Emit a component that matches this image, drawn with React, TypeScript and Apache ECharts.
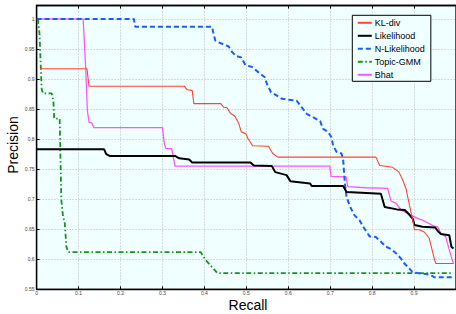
import React, { useEffect, useRef } from "react";
import * as echarts from "echarts";

const seriesNames = ["KL-div", "Likelihood", "N-Likelihood", "Topic-GMM", "Bhat"];

const klDiv: [number, number][] = [
  [0.008, 0.917], [0.12, 0.917], [0.125, 0.888], [0.352, 0.888], [0.359, 0.882],
  [0.371, 0.881], [0.375, 0.859], [0.439, 0.859], [0.446, 0.853], [0.454, 0.852],
  [0.462, 0.843], [0.473, 0.838], [0.482, 0.826], [0.488, 0.812], [0.499, 0.809],
  [0.504, 0.801], [0.515, 0.789], [0.553, 0.788], [0.563, 0.776], [0.575, 0.77],
  [0.809, 0.77], [0.818, 0.756], [0.849, 0.753], [0.864, 0.745], [0.873, 0.732],
  [0.881, 0.717], [0.889, 0.69], [0.897, 0.665], [0.901, 0.649], [0.913, 0.649],
  [0.925, 0.645], [0.936, 0.635], [0.949, 0.599], [0.952, 0.593], [0.994, 0.593],
];

const likelihood: [number, number][] = [
  [0.0, 0.783], [0.161, 0.783], [0.166, 0.775], [0.174, 0.772], [0.33, 0.772],
  [0.34, 0.768], [0.364, 0.766], [0.371, 0.761], [0.51, 0.761], [0.518, 0.756],
  [0.561, 0.755], [0.569, 0.745], [0.596, 0.74], [0.605, 0.73], [0.652, 0.726],
  [0.656, 0.722], [0.731, 0.722], [0.739, 0.712], [0.821, 0.709], [0.83, 0.687],
  [0.859, 0.683], [0.878, 0.682], [0.889, 0.674], [0.897, 0.667], [0.901, 0.657],
  [0.92, 0.654], [0.95, 0.653], [0.958, 0.646], [0.964, 0.642], [0.984, 0.64],
  [0.989, 0.621], [0.994, 0.618],
];

const nLikelihood: [number, number][] = [
  [0.0, 1.0], [0.232, 1.0], [0.235, 0.987], [0.418, 0.987], [0.422, 0.975],
  [0.426, 0.964], [0.434, 0.961], [0.458, 0.954], [0.466, 0.945], [0.476, 0.938],
  [0.488, 0.936], [0.498, 0.923], [0.514, 0.92], [0.529, 0.911], [0.544, 0.903],
  [0.549, 0.892], [0.559, 0.878], [0.569, 0.874], [0.585, 0.867], [0.596, 0.866],
  [0.62, 0.864], [0.632, 0.853], [0.644, 0.842], [0.66, 0.836], [0.676, 0.83],
  [0.683, 0.817], [0.695, 0.812], [0.703, 0.803], [0.707, 0.789], [0.715, 0.779],
  [0.727, 0.776], [0.731, 0.765], [0.735, 0.726], [0.739, 0.704], [0.747, 0.688],
  [0.758, 0.673], [0.77, 0.665], [0.778, 0.655], [0.794, 0.638], [0.809, 0.637],
  [0.821, 0.629], [0.833, 0.621], [0.845, 0.617], [0.857, 0.61], [0.869, 0.601],
  [0.877, 0.593], [0.896, 0.579], [0.908, 0.577], [0.932, 0.575], [0.944, 0.572],
  [0.948, 0.57], [0.994, 0.57],
];

const topicGmm: [number, number][] = [
  [0.003, 1.0], [0.007, 0.975], [0.01, 0.92], [0.012, 0.884], [0.015, 0.876],
  [0.036, 0.876], [0.04, 0.864], [0.042, 0.834], [0.055, 0.834], [0.057, 0.765],
  [0.059, 0.698], [0.063, 0.671], [0.067, 0.662], [0.071, 0.621], [0.075, 0.612],
  [0.391, 0.612], [0.403, 0.599], [0.431, 0.577], [0.994, 0.577],
];

const bhat: [number, number][] = [
  [0.003, 1.0], [0.111, 1.0], [0.117, 0.92], [0.121, 0.848], [0.125, 0.828],
  [0.131, 0.827], [0.137, 0.819], [0.3, 0.819], [0.304, 0.795], [0.308, 0.784],
  [0.322, 0.784], [0.33, 0.755], [0.699, 0.755], [0.702, 0.738], [0.738, 0.737],
  [0.742, 0.721], [0.786, 0.719], [0.837, 0.718], [0.845, 0.697], [0.857, 0.693],
  [0.869, 0.682], [0.885, 0.676], [0.908, 0.668], [0.92, 0.665], [0.948, 0.655],
  [0.956, 0.654], [0.964, 0.643], [0.975, 0.638], [0.983, 0.618], [0.991, 0.599],
  [0.994, 0.593],
];

const xTicks = [0, 0.1, 0.2, 0.3, 0.4, 0.5, 0.6, 0.7, 0.8, 0.9, 1];
const yTicks = [0.55, 0.6, 0.65, 0.7, 0.75, 0.8, 0.85, 0.9, 0.95, 1];

const FONT = "'Liberation Sans', Arial, Helvetica, sans-serif";

export default function App() {
  const ref = useRef<HTMLDivElement>(null);
  useEffect(() => {
    if (!ref.current) return;
    const chart = echarts.init(ref.current, undefined, { renderer: "svg" });
    const gridLeft = 36.6;
    const gridTop = 5.5;
    const gridW = 422;
    const gridH = 283.8;
    const tickLabel = {
      fontSize: 5,
      lineHeight: 5,
      color: "#444",
      fontFamily: FONT,
      formatter: (v: number) => String(+v.toFixed(2)),
    };
    const gridLine = { show: true, lineStyle: { color: "#b8b8b8", type: [1, 2] as any, width: 1 } };
    const data = [klDiv, likelihood, nLikelihood, topicGmm, bhat];
    const styles = [
      { color: "#ff4433", width: 1.1, type: "solid" as any },
      { color: "#000000", width: 2, type: "solid" as any },
      { color: "#1a5cff", width: 2, type: [5, 3] as any },
      { color: "#1a931a", width: 1.8, type: [5, 2.5, 1.5, 2.5] as any },
      { color: "#ff55ff", width: 1.3, type: "solid" as any },
    ];
    chart.setOption({
      animation: false,
      grid: {
        left: gridLeft,
        top: gridTop,
        width: gridW,
        height: gridH,
        show: true,
        backgroundColor: "#f0ffff",
        borderColor: "#000",
        borderWidth: 1.3,
        containLabel: false,
      },
      xAxis: [
        {
          type: "value",
          min: xTicks[0],
          max: xTicks[xTicks.length - 1],
          interval: 0.1,
          axisLine: { show: true, lineStyle: { color: "#000", width: 1.3 } },
          axisTick: { show: true, inside: true, length: 3, lineStyle: { color: "#000" } },
          axisLabel: { ...tickLabel, margin: 1.5, showMaxLabel: false },
          splitLine: gridLine,
        },
        {
          type: "value",
          position: "top",
          min: xTicks[0],
          max: xTicks[xTicks.length - 1],
          interval: 0.1,
          axisLine: { show: true, lineStyle: { color: "#000", width: 1.3 } },
          axisTick: { show: true, inside: true, length: 3, lineStyle: { color: "#000" } },
          axisLabel: { show: false },
          splitLine: { show: false },
        },
      ],
      yAxis: {
        type: "value",
        min: yTicks[0],
        max: 1.0223,
        interval: 0.05,
        axisLine: { show: true, lineStyle: { color: "#000", width: 1.3 } },
        axisTick: { show: true, inside: true, length: 3, lineStyle: { color: "#000" } },
        axisLabel: { ...tickLabel, margin: 2, showMaxLabel: false },
        splitLine: gridLine,
      },
      legend: {
        orient: "vertical",
        left: 352.3,
        top: 15.3,
        data: seriesNames,
        backgroundColor: "#f0ffff",
        borderColor: "#000",
        borderWidth: 1,
        padding: [3, 6, 2, 4.5],
        itemWidth: 14,
        itemHeight: 9,
        itemGap: 4,
        itemStyle: { opacity: 0, borderWidth: 0 },
        textStyle: { fontSize: 9, fontFamily: FONT, color: "#000", padding: [0, 0, 0, -2] },
      },
      graphic: [
        {
          type: "text",
          x: 248,
          y: 298.7,
          style: {
            text: "Recall",
            fontSize: 14,
            lineHeight: 12,
            fontFamily: FONT,
            fill: "#000",
            align: "center",
            verticalAlign: "top",
          },
        },
        {
          type: "text",
          x: 13,
          y: 145,
          rotation: Math.PI / 2,
          style: {
            text: "Precision",
            fontSize: 14,
            fontFamily: FONT,
            fill: "#000",
            align: "center",
            verticalAlign: "middle",
          },
        },
      ],
      series: seriesNames.map((name, i) => ({
        name,
        type: "line",
        data: data[i],
        symbol: "none",
        showSymbol: false,
        xAxisIndex: 0,
        lineStyle: styles[i],
        itemStyle: { color: styles[i].color },
        z: 10 - i,
      })),
    });
    return () => chart.dispose();
  }, []);
  return (
    <div
      ref={ref}
      style={{ position: "absolute", left: 0, top: 0, width: 456, height: 314 }}
    />
  );
}
